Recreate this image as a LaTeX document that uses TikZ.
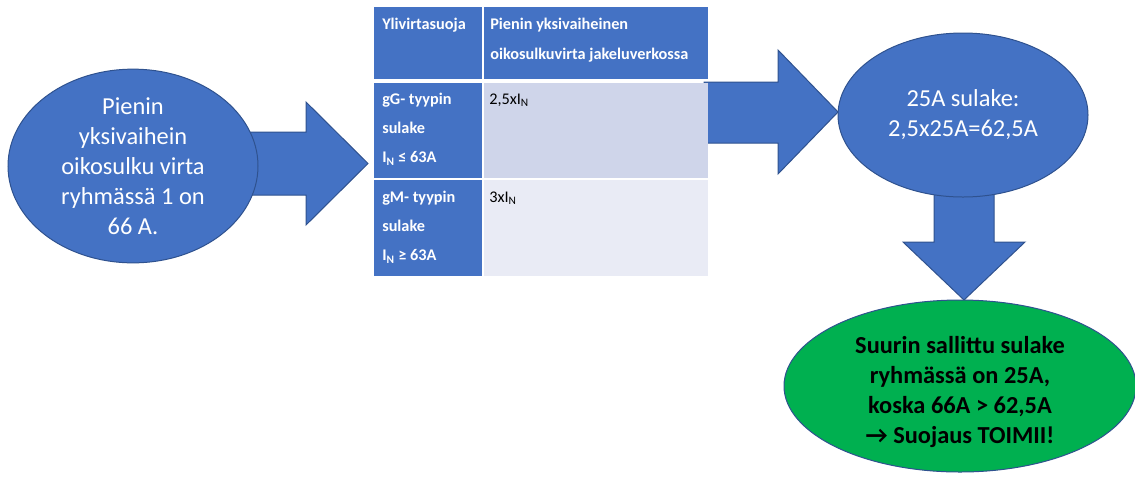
\documentclass[tikz,border=0pt]{standalone}
\usepackage{fontspec}
\setmainfont{Carlito}
\usetikzlibrary{shapes.geometric}
\definecolor{accent}{HTML}{4472C4}
\definecolor{accentdark}{HTML}{2F528F}
\definecolor{rowA}{HTML}{CFD5EA}
\definecolor{rowB}{HTML}{E9EBF5}
\definecolor{okgreen}{HTML}{00B050}
\newcommand{\cs}{\rule{0pt}{9.5pt}}
\begin{document}
\begin{tikzpicture}[x=0.75pt,y=-0.75pt,
  bubble/.style={ellipse, draw=accentdark, line width=0.75pt, fill=accent, inner sep=0pt,
    text=white, align=center, font=\fontsize{18.3}{22.5}\selectfont},
  greenbubble/.style={ellipse, draw=accentdark, line width=0.75pt, fill=okgreen, inner sep=0pt},
  blockarrow/.style={fill=accent, draw=accentdark, line width=0.75pt, line join=miter},
  cell/.style={rectangle, inner sep=0pt, anchor=north west},
  headcell/.style={cell, fill=accent},
  celltext/.style={anchor=north west, inner sep=0pt, align=left,
    font=\fontsize{12.2}{22}\selectfont},
  headtext/.style={celltext, text=white, font=\fontsize{12.2}{23}\selectfont\bfseries},
  sidetext/.style={celltext, text=white, font=\fontsize{12.2}{22}\selectfont\bfseries},
]
\useasboundingbox (0,0) rectangle (1135,476);

% block arrows
\draw[blockarrow] (250,132) -- (306,132) -- (306,102) -- (368,163.5) -- (306,225) -- (306,195) -- (250,195) -- cycle;
\draw[blockarrow] (704,82) -- (778,82) -- (778,50) -- (838,112) -- (778,174) -- (778,143) -- (704,143) -- cycle;
\draw[blockarrow] (934,185) -- (994,185) -- (994,242) -- (1025,242) -- (964,300) -- (903,242) -- (934,242) -- cycle;

% left ellipse
\node[bubble, minimum width=187.5pt, minimum height=129pt] (start) at (133,166)
  {Pienin\\yksivaihein\\oikosulku virta\\ryhmässä 1 on\\66 A.};

% table
\node[headcell, minimum width=81pt, minimum height=54pt] (h1) at (374,7) {};
\node[headcell, minimum width=168pt, minimum height=54pt] (h2) at (484,7) {};
\node[headcell, minimum width=81pt, minimum height=71.25pt] (r1a) at (374,83) {};
\node[cell, fill=rowA, minimum width=168pt, minimum height=71.25pt] (r1b) at (484,83) {};
\node[headcell, minimum width=81pt, minimum height=72pt] (r2a) at (374,180) {};
\node[cell, fill=rowB, minimum width=168pt, minimum height=72pt] (r2b) at (484,180) {};

\node[headtext] at ([shift={(8,9.3)}]h1.north west) {\cs Ylivirtasuoja};
\node[headtext] at ([shift={(6,9.3)}]h2.north west) {\cs Pienin yksivaiheinen\\oikosulkuvirta jakeluverkossa};
\node[sidetext] at ([shift={(8,8.3)}]r1a.north west)
  {\cs gG- tyypin\\sulake\\I\textsubscript{N} ≤ 63A};
\node[celltext] at ([shift={(5,8.3)}]r1b.north west) {\cs 2,5xI\textsubscript{N}};
\node[sidetext] at ([shift={(8,9.3)}]r2a.north west)
  {\cs gM- tyypin\\sulake\\I\textsubscript{N} ≥ 63A};
\node[celltext] at ([shift={(5,9.3)}]r2b.north west) {\cs 3xI\textsubscript{N}};

% right ellipse
\node[bubble, minimum width=187.5pt, minimum height=123pt] (calc) at (963,115)
  {25A sulake:\\2,5x25A=62,5A};

% green ellipse
\node[greenbubble, minimum width=264pt, minimum height=129pt] (result) at (960,386) {};
\node[align=center, inner sep=0pt, font=\fontsize{18.3}{22.3}\selectfont\bfseries] (resulttext) at (960,392)
  {Suurin sallittu sulake\\ryhmässä on 25A,\\koska 66A > 62,5A\\→ Suojaus TOIMII!};
\end{tikzpicture}
\end{document}
